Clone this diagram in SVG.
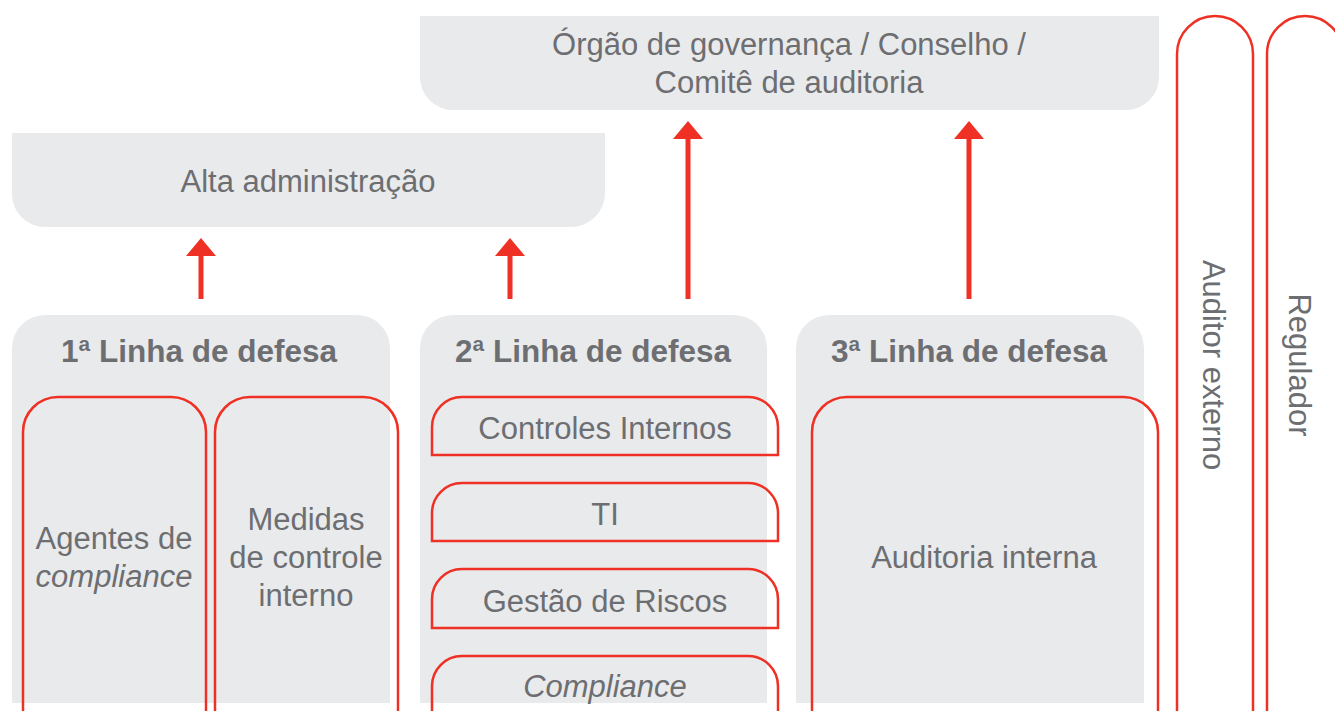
<svg xmlns="http://www.w3.org/2000/svg" width="1335" height="711" viewBox="0 0 1335 711">
<defs>
<style>
.g{fill:#e9eaec}
.r{fill:none;stroke:#ee3124;stroke-width:2.5}
.t{font-family:"Liberation Sans",Arial,sans-serif;font-size:31px;fill:#6d6e71;text-anchor:middle}
.b{font-weight:bold;font-size:31.5px}
.i{font-style:italic}
.a{stroke:#ee3124;stroke-width:5;fill:none}
</style>
<marker id="head" markerUnits="userSpaceOnUse" markerWidth="18" markerHeight="30" refX="0" refY="15" orient="auto" viewBox="0 0 18 30">
<path d="M0,0 L18,15 L0,30 Z" fill="#ee3124"/>
</marker>
</defs>
<rect width="1335" height="711" fill="#ffffff"/>

<g id="orgao">
<path class="g" d="M420,16 H1159 V77 A33,33 0 0 1 1126,110 H453 A33,33 0 0 1 420,77 Z"/>
<text class="t" x="789" y="55">Órgão de governança / Conselho /</text>
<text class="t" x="789" y="93">Comitê de auditoria</text>
</g>

<g id="alta">
<path class="g" d="M12,133 H605 V193 A34,34 0 0 1 571,227 H45 A33,33 0 0 1 12,194 Z"/>
<text class="t" x="308" y="192">Alta administração</text>
</g>

<g id="linha1">
<path class="g" d="M12,703 V348 A33,33 0 0 1 45,315 H357 A33,33 0 0 1 390,348 V703 Z"/>
<text class="t b" x="199" y="362">1ª Linha de defesa</text>
</g>
<g id="agentes">
<path class="r" d="M23,715 V432 A35,35 0 0 1 58,397 H171 A35,35 0 0 1 206,432 V715"/>
<text class="t" x="114" y="549">Agentes de</text>
<text class="t i" x="114" y="587">compliance</text>
</g>
<g id="medidas">
<path class="r" d="M215,715 V432 A35,35 0 0 1 250,397 H363 A35,35 0 0 1 398,432 V715"/>
<text class="t" x="306" y="530">Medidas</text>
<text class="t" x="306" y="568">de controle</text>
<text class="t" x="306" y="606">interno</text>
</g>

<g id="linha2">
<path class="g" d="M420,703 V348 A33,33 0 0 1 453,315 H734 A33,33 0 0 1 767,348 V703 Z"/>
<text class="t b" x="593" y="362">2ª Linha de defesa</text>
</g>
<g id="controles">
<path class="r" d="M432,455 V427 A30,30 0 0 1 462,397 H748 A30,30 0 0 1 778,427 V455 Z"/>
<text class="t" x="605" y="439">Controles Internos</text>
</g>
<g id="ti">
<path class="r" d="M432,541 V513 A30,30 0 0 1 462,483 H748 A30,30 0 0 1 778,513 V541 Z"/>
<text class="t" x="605" y="525">TI</text>
</g>
<g id="gestao">
<path class="r" d="M432,628 V599 A30,30 0 0 1 462,569 H748 A30,30 0 0 1 778,599 V628 Z"/>
<text class="t" x="605" y="612">Gestão de Riscos</text>
</g>
<g id="compliance">
<path class="r" d="M432,715 V686 A30,30 0 0 1 462,656 H748 A30,30 0 0 1 778,686 V715"/>
<text class="t i" x="605" y="697">Compliance</text>
</g>

<g id="linha3">
<path class="g" d="M796,703 V348 A33,33 0 0 1 829,315 H1111 A33,33 0 0 1 1144,348 V703 Z"/>
<text class="t b" x="969" y="362">3ª Linha de defesa</text>
</g>
<g id="auditoria">
<path class="r" d="M812,715 V432 A35,35 0 0 1 847,397 H1123 A35,35 0 0 1 1158,432 V715"/>
<text class="t" x="984" y="568">Auditoria interna</text>
</g>

<g id="auditor-externo">
<path class="r" d="M1177,715 V54 A38,38 0 0 1 1253,54 V715"/>
<text class="t" transform="translate(1214,365) rotate(90)" y="11">Auditor externo</text>
</g>
<g id="regulador">
<path class="r" d="M1267,715 V54 A38,38 0 0 1 1343,54 V715"/>
<text class="t" transform="translate(1300,365) rotate(90)" y="11">Regulador</text>
</g>

<g id="connectors">
<path class="a" d="M201,299 V256" marker-end="url(#head)"/>
<path class="a" d="M510,299 V256" marker-end="url(#head)"/>
<path class="a" d="M688,299 V139" marker-end="url(#head)"/>
<path class="a" d="M969,299 V139" marker-end="url(#head)"/>
</g>
</svg>
